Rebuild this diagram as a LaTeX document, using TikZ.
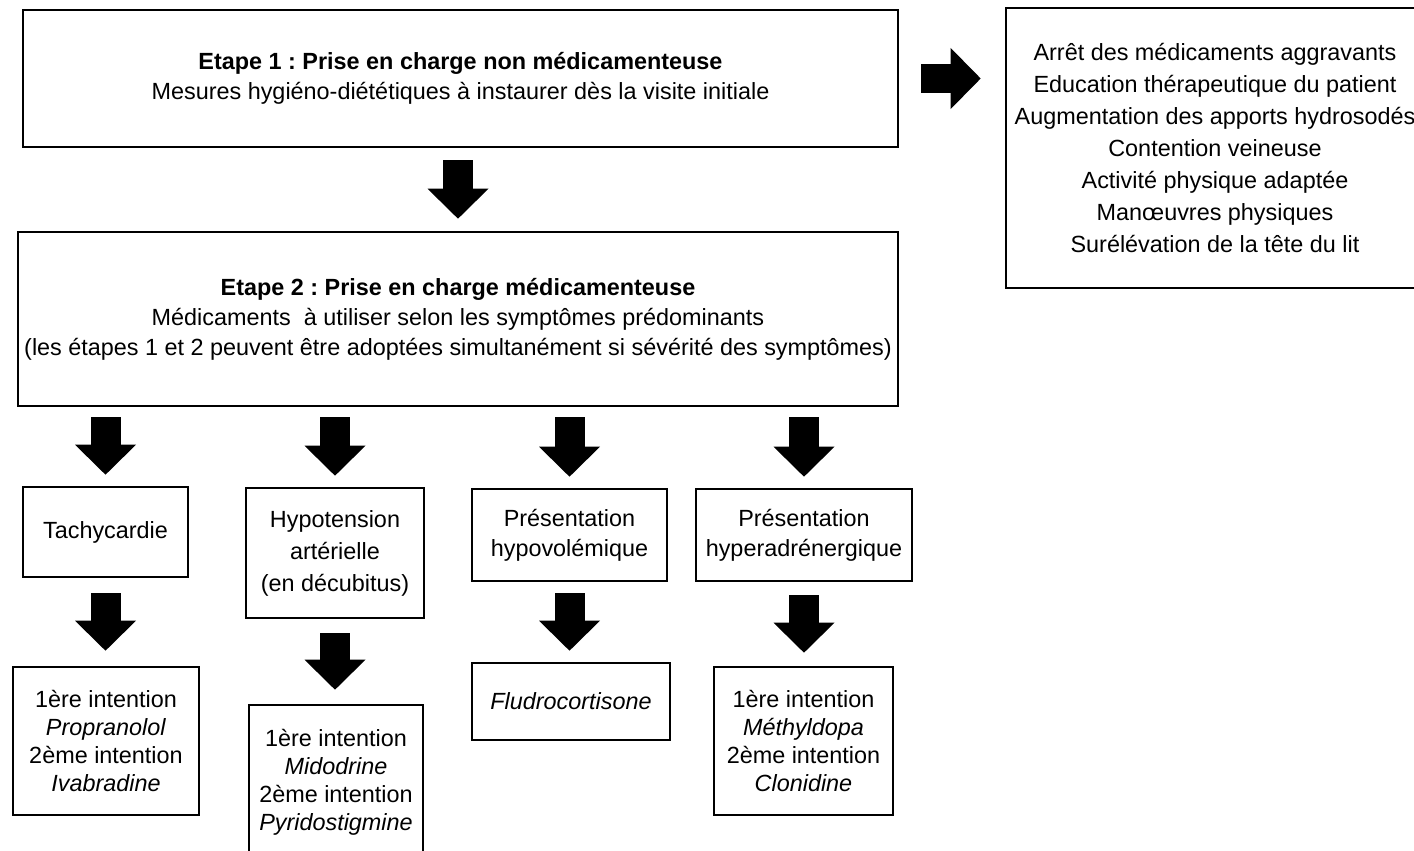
\documentclass[tikz,border=0pt]{standalone}
\usepackage{fontspec}
\setmainfont{Liberation Sans}
\frenchspacing
\usetikzlibrary{arrows.meta,positioning}
\definecolor{ink}{RGB}{0,0,0}
\tikzset{
  box/.style={draw=ink,line width=2.6pt,align=center,inner sep=0pt,text=ink,
    font=\fontsize{23.4}{30}\selectfont},
  tight/.style={font=\fontsize{23.4}{28}\selectfont},
  loose/.style={font=\fontsize{23.4}{32}\selectfont},
  % big block arrows between the boxes
  blockflow/.style={draw=ink,line width=30pt,
    -{Triangle[length=30pt,width=61pt,line width=0pt]}},
}

\begin{document}
\begin{tikzpicture}[x=1pt,y=-1pt]
    \useasboundingbox (0,0) rectangle (1414,851);
    \fill[white] (0,0) rectangle (1414,851);
    \clip (0,0) rectangle (1414,851);
    % step boxes
    \node[box,minimum width=875pt,minimum height=137pt] (step1) at (460.5,78.5)
      {\textbf{Etape 1 : Prise en charge non médicamenteuse}\\
       Mesures hygiéno-diététiques à instaurer dès la visite initiale};
    \node[box,minimum width=880pt,minimum height=174pt] (step2) at (458,319)
      {\textbf{Etape 2 : Prise en charge médicamenteuse}\\
       Médicaments~ à utiliser selon les symptômes prédominants\\
       (les étapes 1 et 2 peuvent être adoptées simultanément si sévérité des symptômes)};
    \node[box,loose,minimum width=418pt,minimum height=280pt] (measures) at (1215,148)
      {Arrêt des médicaments aggravants\\
       Education thérapeutique du patient\\
       Augmentation des apports hydrosodés\\
       Contention veineuse\\
       Activité physique adaptée\\
       Manœuvres physiques\\
       Surélévation de la tête du lit};
    % symptoms
    \node[box,minimum width=165pt,minimum height=90pt] (t1) at (105.5,532) {Tachycardie};
    \node[box,loose,minimum width=178pt,minimum height=130pt] (t2) at (335,553)
      {Hypotension\\artérielle\\(en décubitus)};
    \node[box,minimum width=195pt,minimum height=92pt] (t3) at (569.5,535)
      {Présentation\\hypovolémique};
    \node[box,minimum width=216pt,minimum height=92pt] (t4) at (804,535)
      {Présentation\\hyperadrénergique};
    % treatments
    \node[box,tight,minimum width=186pt,minimum height=148pt] (r1) at (106,741)
      {1ère intention\\\textit{Propranolol}\\2ème intention\\\textit{Ivabradine}};
    \node[box,tight,minimum width=174pt,minimum height=154pt] (r2) at (336,782)
      {1ère intention\\\textit{Midodrine}\\2ème intention\\\textit{Pyridostigmine}};
    \node[box,minimum width=198pt,minimum height=77pt] (r3) at (571,701.5)
      {\textit{Fludrocortisone}};
    \node[box,tight,minimum width=179pt,minimum height=148pt] (r4) at (803.5,741)
      {1ère intention\\\textit{Méthyldopa}\\2ème intention\\\textit{Clonidine}};
    % arrows
    \draw[blockflow,shorten <=12pt,shorten >=12pt] (step2.north |- step1.south) -- (step2.north);
    \draw[blockflow,line width=28pt,shorten <=22pt,shorten >=24pt]
      (step1.east) -- (measures.west |- step1.east);
    \foreach \c in {t1,t2,t3,t4}
      \draw[blockflow,shorten <=10pt,shorten >=11pt] (step2.south -| \c.north) -- (\c.north);
    \foreach \a/\b/\g in {t1/r1/15,t2/r2/14,t3/r3/11,t4/r4/13}
      \draw[blockflow,shorten <=\g pt,shorten >=\g pt] (\a.south) -- (\a.south |- \b.north);
\end{tikzpicture}
\end{document}
